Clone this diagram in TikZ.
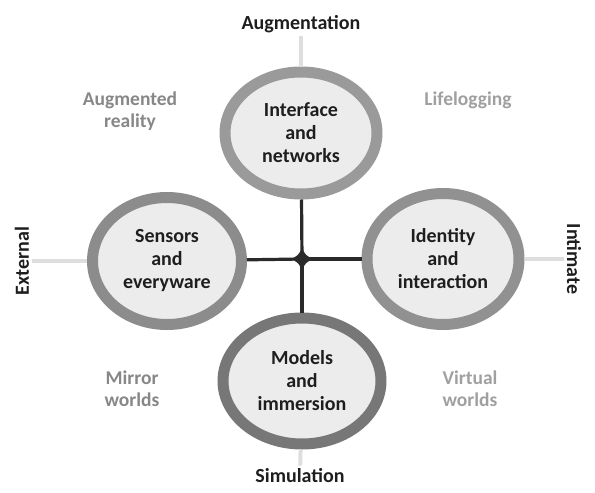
\documentclass[tikz,border=0pt]{standalone}
\usepackage{fontspec}
\setmainfont{Carlito}
\usepackage{tikz}
\usetikzlibrary{shapes.geometric}
\definecolor{Ink}{HTML}{1E1E1E}
\definecolor{Hub}{HTML}{2A2A2A}
\definecolor{RingTop}{HTML}{9A9A9A}
\definecolor{RingLeft}{HTML}{8C8C8C}
\definecolor{RingRight}{HTML}{919191}
\definecolor{RingBottom}{HTML}{777777}
\definecolor{Core}{HTML}{ECECEC}
\definecolor{Faint}{HTML}{DEDEDE}
\definecolor{Corner}{HTML}{878787}
\definecolor{CornerLight}{HTML}{A0A0A0}
\tikzset{
  ring/.style={ellipse, draw=#1, line width=11pt, fill=Core, align=center, inner sep=0pt, font=\bfseries\fontsize{20}{23}\selectfont, text=Ink},
  axislabel/.style={font=\bfseries\fontsize{20}{23}\selectfont, text=Ink, inner sep=3pt},
  cornerlabel/.style={font=\bfseries\fontsize{19.5}{22}\selectfont, text=Corner, align=center},
  spoke/.style={line width=3.2pt, draw=Hub},
  guide/.style={line width=4pt, draw=Faint}
}

\begin{document}
\begin{tikzpicture}[x=1pt, y=-1pt]
  \useasboundingbox (0,0) rectangle (595,493);

  \coordinate (hub) at (302,259);

  \node[ring=RingTop, minimum width=152pt, minimum height=122pt] (interface) at (301,133) {Interface\\and\\networks};
  \node[ring=RingLeft, minimum width=149pt, minimum height=127pt] (sensors) at (167,261) {Sensors\\and\\everyware};
  \node[ring=RingRight, minimum width=152pt, minimum height=131pt] (identity) at (443,259) {Identity\\and\\interaction};
  \node[ring=RingBottom, minimum width=158pt, minimum height=126pt] (models) at (302,381) {Models\\and\\immersion};

  \node[axislabel] (augmentation) at (301,24) {Augmentation};
  \node[axislabel] (simulation) at (300,476) {Simulation};
  \node[axislabel, rotate=90] (external) at (22,261) {External};
  \node[axislabel, rotate=-90] (intimate) at (574,259) {Intimate};

  \node[cornerlabel] (augreality) at (130,111) {Augmented\\reality};
  \node[cornerlabel, text=CornerLight] (lifelogging) at (468,100) {Lifelogging};
  \node[cornerlabel] (mirror) at (132,389) {Mirror\\worlds};
  \node[cornerlabel, text=CornerLight] (virtual) at (470,389) {Virtual\\worlds};

  \draw[guide] (interface) -- (augmentation);
  \draw[guide] (models) -- (simulation);
  \draw[guide] (sensors) -- (external);
  \draw[guide] (identity) -- (intimate);

  \draw[spoke] (hub) -- (interface);
  \draw[spoke] (hub) -- (models);
  \draw[spoke] (hub) -- (sensors);
  \draw[spoke] (hub) -- (identity);

  \begin{scope}[shift={(hub)}]
    \fill[Hub] (12,0) .. controls (5,2) and (2,5) .. (0,12)
      .. controls (-2,5) and (-5,2) .. (-12,0)
      .. controls (-5,-2) and (-2,-5) .. (0,-12)
      .. controls (2,-5) and (5,-2) .. cycle;
  \end{scope}
\end{tikzpicture}
\end{document}
